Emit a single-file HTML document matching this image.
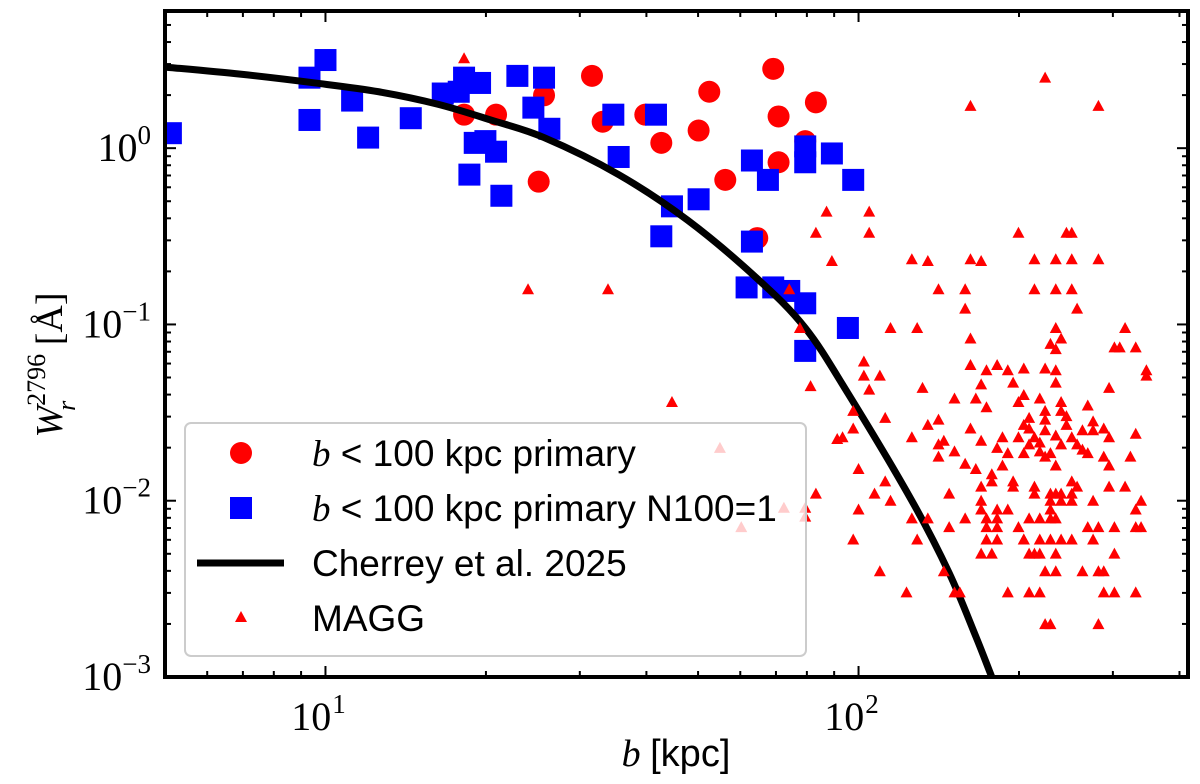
<!DOCTYPE html>
<html><head><meta charset="utf-8"><style>
html,body{margin:0;padding:0;background:#fff;}
svg{display:block;}
text{font-family:"Liberation Serif","DejaVu Serif",serif;fill:#000;}
.leg{font-family:"Liberation Sans","DejaVu Sans",sans-serif;font-size:37px;}
</style></head><body>
<svg id="chart" width="1200" height="784" viewBox="0 0 1200 784" xmlns="http://www.w3.org/2000/svg">
<defs><clipPath id="clip"><rect x="165" y="11" width="1023" height="666"/></clipPath></defs>
<g id="ticks"></g>
<g id="plot" clip-path="url(#clip)"></g>
<rect x="165" y="11" width="1023" height="666" fill="none" stroke="#000" stroke-width="4"/>
<g id="labels"></g>
<text x="676" y="766" font-size="38" text-anchor="middle"><tspan font-style="italic">b</tspan> <tspan font-family="Liberation Sans, sans-serif">[kpc]</tspan></text>
<text transform="translate(62,365) rotate(-90)" font-size="38" text-anchor="middle"><tspan font-style="italic">W</tspan><tspan font-size="26" dy="-17">2796</tspan><tspan font-size="26" font-style="italic" dx="-57" dy="30">r</tspan><tspan dx="46" dy="-13"> [Å]</tspan></text>
<g id="legend">
<rect x="185" y="423" width="621" height="233" rx="6" fill="rgba(255,255,255,0.8)" stroke="#ccc" stroke-width="2"/>
<circle cx="241" cy="453" r="11" fill="#ff0000"/>
<text class="leg" x="312" y="466"><tspan font-family="Liberation Serif,serif" font-style="italic">b</tspan> &lt; 100 kpc primary</text>
<rect x="230" y="497" width="22" height="22" fill="#0000ff"/>
<text class="leg" x="312" y="521"><tspan font-family="Liberation Serif,serif" font-style="italic">b</tspan> &lt; 100 kpc primary N100=1</text>
<line x1="197" y1="563" x2="284" y2="563" stroke="#000" stroke-width="7"/>
<text class="leg" x="312" y="576">Cherrey et al. 2025</text>
<polygon points="241,611 235,622 247,622" fill="#ff0000"/>
<text class="leg" x="312" y="631">MAGG</text>
</g>
</svg>
<script>
// log10 values
const circLogB=[1.50,1.41,1.26,1.32,1.52,1.60,1.63,1.70,1.72,1.84,1.92,1.85,1.90,1.85,1.75,1.40,1.81];
const circLogW=[0.41,0.30,0.19,0.19,0.15,0.19,0.03,0.10,0.32,0.45,0.26,0.18,0.04,-0.08,-0.18,-0.19,-0.51];
const sqLogB=[0.71,1.00,0.97,0.97,1.05,1.08,1.16,1.22,1.25,1.26,1.29,1.28,1.30,1.32,1.27,1.33,1.36,1.41,1.39,1.42,1.54,1.55,1.62,1.65,1.63,1.70,1.80,1.83,1.80,1.79,1.84,1.87,1.90,1.90,1.95,1.99,1.90,1.98,1.90];
const sqLogW=[0.085,0.50,0.40,0.16,0.27,0.06,0.17,0.31,0.32,0.40,0.37,0.03,0.04,-0.02,-0.15,-0.27,0.41,0.40,0.23,0.11,0.19,-0.05,0.19,-0.33,-0.50,-0.29,-0.07,-0.18,-0.53,-0.79,-0.79,-0.81,0.01,-0.08,-0.03,-0.18,-0.88,-1.02,-1.15];
const modelLogB=[0.70,0.84,0.98,1.10,1.21,1.31,1.41,1.55,1.68,1.81,1.90,1.98,2.10,2.17,2.22,2.25,2.27];
const modelLogW=[0.46,0.42,0.37,0.32,0.25,0.16,0.06,-0.15,-0.41,-0.74,-1.02,-1.39,-2.00,-2.41,-2.77,-3.00,-3.15];
const triLogB=[1.26,1.38,1.53,1.65,2.21,2.35,2.45,
1.94,2.02, 1.92,2.02,2.30,2.39,2.40, 1.95,2.10,2.13,2.21,2.23,2.33,2.37,2.40,2.45,
1.87,2.15,2.20,2.33,2.37,2.40, 2.20,2.41, 1.89,2.06,2.11,2.37,2.50, 2.21,2.38, 2.36, 2.37,2.48,2.49,2.52,
2.01, 2.21,2.26, 2.24,2.28,2.37,2.54, 2.31,2.35, 2.54,2.01,2.04, 2.23,2.29,2.37, 1.91, 2.12,2.47, 2.02,
2.18,2.22,2.34, 2.31, 2.24, 2.30,2.38, 2.35,2.38, 2.43, 1.99, 2.39, 2.05,2.32, 2.35, 2.15, 2.13,2.31,2.39, 2.44,
1.99,2.21,2.32,2.46, 2.35,2.42,2.44, 2.52, 1.96, 1.97,2.10,2.27,2.33,2.40,2.47, 2.16,2.23, 2.30, 2.37,
2.15,2.41, 2.32,2.38, 2.34, 2.42, 2.18,2.34, 2.26, 2.28,2.31,2.36,2.43, 2.46,2.51,2.15, 2.35,
2.20, 2.27,2.37,2.47, 2.22,2.00, 2.25, 2.29,2.05,2.40, 2.23,2.29,2.33,2.41,2.47,2.50, 2.25,
1.92,2.03,2.17,2.33,2.36,2.37,2.38,2.40, 2.23,2.36,2.38,2.40,2.44,2.53,2.06,
2.28,2.26,2.23,2.52,2.00,2.36, 2.10,2.13,2.20,2.24,2.26,2.32,2.34,2.36,2.37,
2.17,2.24,2.26,2.30,2.43,2.45,2.48,2.52,2.53,
1.99,2.11,2.24,2.26,2.31,2.31,2.34,2.36,2.38,2.40,2.44,
2.23,2.25,2.32,2.33,2.34,2.37,2.48, 2.04,2.16,2.35,2.37,2.42,2.45,2.46,
2.09,2.18,2.19,2.28,2.32,2.34,2.46,2.48,2.52, 2.35,2.36,2.45,
1.74,1.78,1.86,1.90,1.90];
const triLogW=[0.51,-0.80,-0.80,-1.44,0.24,0.40,0.24,
-0.36,-0.36, -0.48,-0.48,-0.48,-0.48,-0.48, -0.64,-0.63,-0.64,-0.63,-0.64,-0.63,-0.63,-0.63,-0.63,
-0.80,-0.80,-0.80,-0.80,-0.80,-0.80, -0.91,-0.91, -1.02,-1.02,-1.02,-1.02,-1.02, -1.08,-1.08, -1.11, -1.14,-1.13,-1.13,-1.13,
-1.21, -1.23,-1.23, -1.26,-1.26,-1.26,-1.26, -1.25,-1.25, -1.29,-1.29,-1.29, -1.34,-1.33,-1.33, -1.35, -1.36,-1.36, -1.37,
-1.42,-1.42,-1.42, -1.40, -1.47, -1.44,-1.44, -1.49,-1.49, -1.46, -1.49, -1.52, -1.53,-1.53, -1.54, -1.54, -1.57,-1.57,-1.57, -1.55,
-1.59,-1.59,-1.59,-1.59, -1.60,-1.60,-1.60, -1.62, -1.65, -1.64,-1.64,-1.64,-1.64,-1.64,-1.64, -1.66,-1.66, -1.64, -1.63,
-1.68,-1.68, -1.68,-1.68, -1.67, -1.71, -1.72,-1.72, -1.70, -1.73,-1.73,-1.73,-1.73, -1.75,-1.75,-1.75, -1.75,
-1.79, -1.80,-1.80,-1.80, -1.82,-1.82, -1.85, -1.89,-1.89,-1.89, -1.92,-1.92,-1.92,-1.92,-1.92,-1.92, -1.89,
-1.96,-1.96,-1.96,-1.96,-1.96,-1.96,-1.96,-1.96, -2.00,-2.00,-2.00,-2.00,-2.00,-2.00,-2.00,
-2.05,-2.05,-2.05,-2.05,-2.05,-2.05, -2.10,-2.10,-2.10,-2.10,-2.10,-2.10,-2.10,-2.10,-2.10,
-2.15,-2.15,-2.15,-2.15,-2.15,-2.15,-2.15,-2.15,-2.15,
-2.22,-2.22,-2.22,-2.22,-2.22,-2.22,-2.22,-2.22,-2.22,-2.22,-2.22,
-2.30,-2.30,-2.30,-2.30,-2.30,-2.30,-2.30, -2.40,-2.40,-2.40,-2.40,-2.40,-2.40,-2.40,
-2.52,-2.52,-2.52,-2.52,-2.52,-2.52,-2.52,-2.52,-2.52, -2.70,-2.70,-2.70,
-1.70,-2.15,-2.04,-2.04,-2.09];
const xTickLabels=["1","2"];
const yTickLabels=["0","\u22121","\u22122","\u22123"];

const NS="http://www.w3.org/2000/svg";
const L=165,R=1188,T=11,B=677;
const xMinL=Math.log10(5), xMaxL=Math.log10(415);
const yMinL=-3, yMaxL=Math.log10(6);
function X(lb){return L+(lb-xMinL)/(xMaxL-xMinL)*(R-L);}
function Y(lw){return B-(lw-yMinL)/(yMaxL-yMinL)*(B-T);}
function mk(tag,attrs,parent){const e=document.createElementNS(NS,tag);for(const k in attrs)e.setAttribute(k,attrs[k]);parent.appendChild(e);return e;}
const plot=document.getElementById('plot');
const ticks=document.getElementById('ticks');
const labels=document.getElementById('labels');

circLogB.forEach((b,i)=>{
  const c=mk('circle',{cx:X(b),cy:Y(circLogW[i]),r:11,fill:'#ff0000'},plot);
  
  
});
sqLogB.forEach((b,i)=>{
  const s=mk('rect',{x:X(b)-11,y:Y(sqLogW[i])-11,width:22,height:22,fill:'#0000ff'},plot);
  
  
});
// smooth Catmull-Rom through model points
const pts=modelLogB.map((b,i)=>[X(b),Y(modelLogW[i])]);
let d='M'+pts[0][0]+','+pts[0][1];
for(let i=0;i<pts.length-1;i++){
  const p0=pts[Math.max(i-1,0)],p1=pts[i],p2=pts[i+1],p3=pts[Math.min(i+2,pts.length-1)];
  const c1=[p1[0]+(p2[0]-p0[0])/6,p1[1]+(p2[1]-p0[1])/6];
  const c2=[p2[0]-(p3[0]-p1[0])/6,p2[1]-(p3[1]-p1[1])/6];
  d+=` C${c1[0]},${c1[1]} ${c2[0]},${c2[1]} ${p2[0]},${p2[1]}`;
}
const path=mk('path',{d:d,fill:'none',stroke:'#000','stroke-width':7,'stroke-linejoin':'round'},plot);


triLogB.forEach((b,i)=>{
  const x=X(b),y=Y(triLogW[i]);
  const t=mk('polygon',{points:`${x},${y-6} ${x-6},${y+5} ${x+6},${y+5}`,fill:'#ff0000'},plot);
  
  
});

// x ticks
for(let dd=0;dd<=2;dd++){for(let m=1;m<10;m++){
  const lv=dd+Math.log10(m); if(lv<xMinL||lv>xMaxL)continue;
  const x=X(lv),len=m===1?11:6;
  const t1=mk('line',{x1:x,y1:B,x2:x,y2:B-len,stroke:'#000','stroke-width':2},ticks);
  
  
  const t2=mk('line',{x1:x,y1:T,x2:x,y2:T+len,stroke:'#000','stroke-width':2},ticks);
  
  
}}
xTickLabels.forEach(p=>{
  const x=X(+p);
  const t=mk('text',{x:x-7,y:730,'font-size':40,'text-anchor':'middle'},labels);
  t.textContent='10';
  
  
  const s=mk('tspan',{'font-size':27,dy:-17,dx:1},t);s.textContent=p;
});
for(let dd=-3;dd<=0;dd++){for(let m=1;m<10;m++){
  const lv=dd+Math.log10(m); if(lv<yMinL||lv>yMaxL)continue;
  const y=Y(lv),len=m===1?11:6;
  const t1=mk('line',{x1:L,y1:y,x2:L+len,y2:y,stroke:'#000','stroke-width':2},ticks);
  
  
  const t2=mk('line',{x1:R,y1:y,x2:R-len,y2:y,stroke:'#000','stroke-width':2},ticks);
  
  
}}
yTickLabels.forEach((p,i)=>{
  const y=Y(-i);
  const t=mk('text',{x:151,y:y+13,'font-size':40,'text-anchor':'end'},labels);
  
  
  const a=mk('tspan',{},t);a.textContent='10';
  const s=mk('tspan',{'font-size':27,dy:-17},t);s.textContent=p;
});
</script>
</body></html>
